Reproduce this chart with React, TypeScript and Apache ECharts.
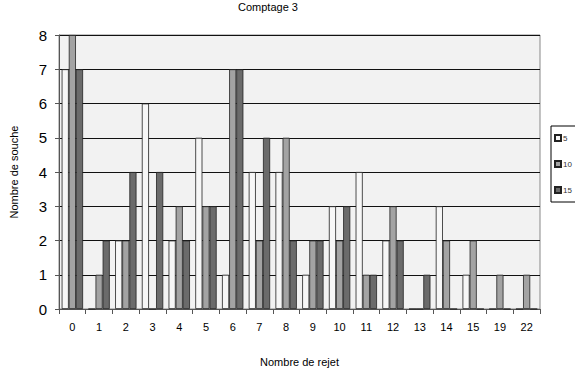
import React, { useEffect, useRef } from "react";
import * as echarts from "echarts";

const categories = ["0", "1", "2", "3", "4", "5", "6", "7", "8", "9", "10", "11", "12", "13", "14", "15", "19", "22"];
const seriesNames = ["5", "10", "15"];
const s5 = [7, 0, 2, 6, 2, 5, 1, 4, 4, 1, 3, 4, 2, 0, 3, 1, 0, 0];
const s10 = [8, 1, 2, 0, 3, 3, 7, 2, 5, 2, 2, 1, 3, 0, 2, 2, 1, 1];
const s15 = [7, 2, 4, 4, 2, 3, 7, 5, 2, 2, 3, 1, 2, 1, 0, 0, 0, 0];
const colors = ["#f7f7f7", "#a3a3a3", "#6b6b6b"];

export default function App() {
  const ref = useRef<HTMLDivElement>(null);
  useEffect(() => {
    if (!ref.current) return;
    const chart = echarts.init(ref.current, null, { renderer: "svg" });
    const font = "'Liberation Sans', Arial, sans-serif";
    const data = [s5, s10, s15];
    chart.setOption({
      animation: false,
      backgroundColor: "#ffffff",
      title: {
        text: "Comptage 3",
        left: 268,
        top: 0,
        padding: [1, 0, 0, 0],
        textAlign: "center",
        textStyle: { fontFamily: font, fontSize: 11, fontWeight: "normal", color: "#000" },
      },
      legend: {
        orient: "vertical",
        left: 551,
        top: 126,
        itemWidth: 6,
        itemHeight: 6,
        itemGap: 18,
        padding: [8, 4, 8, 3],
        borderColor: "#000",
        borderWidth: 1,
        icon: "rect",
        textStyle: { fontFamily: font, fontSize: 8, color: "#333", padding: [0, 0, 0, -3] },
        data: seriesNames,
      },
      grid: {
        left: 54,
        right: 35,
        top: 35,
        bottom: 54,
        show: true,
        backgroundColor: "#f2f2f2",
        borderColor: "#888",
        borderWidth: 1,
      },
      xAxis: {
        type: "category",
        data: categories,
        name: "Nombre de rejet",
        nameLocation: "middle",
        nameGap: 47,
        nameTextStyle: { fontFamily: font, fontSize: 11, color: "#000" },
        axisLine: { lineStyle: { color: "#555" } },
        axisTick: { show: true, length: 5, lineStyle: { color: "#555" } },
        axisLabel: { fontFamily: font, fontSize: 11, color: "#000", margin: 12 },
      },
      yAxis: {
        type: "value",
        min: 0,
        max: 8,
        interval: 1,
        name: "Nombre de souche",
        nameLocation: "middle",
        nameGap: 40,
        nameTextStyle: { fontFamily: font, fontSize: 11, color: "#000" },
        axisLine: { show: true, lineStyle: { color: "#555" } },
        axisTick: { show: true, length: 4, lineStyle: { color: "#555" } },
        axisLabel: { fontFamily: font, fontSize: 15, color: "#000", margin: 12 },
        splitLine: { lineStyle: { color: "#111", width: 1 } },
      },
      series: seriesNames.map((name, i) => ({
        name,
        type: "bar",
        data: data[i],
        barGap: "0%",
        barCategoryGap: "20%",
        itemStyle: { color: colors[i], borderColor: "#222", borderWidth: 0.8 },
      })),
    });
    return () => chart.dispose();
  }, []);
  return <div ref={ref} style={{ width: 575, height: 372, position: "absolute", left: 0, top: 0 }} />;
}
